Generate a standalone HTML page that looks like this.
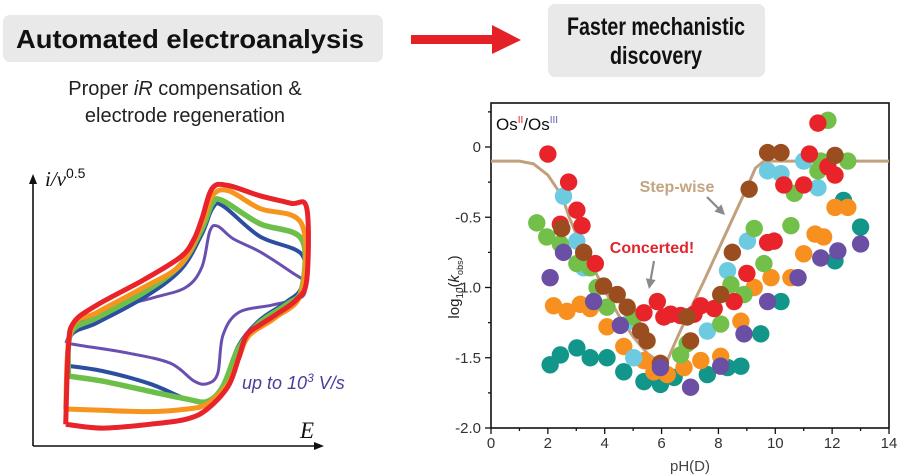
<!DOCTYPE html>
<html><head><meta charset="utf-8"><style>
html,body{margin:0;padding:0;background:#fff;}
svg{display:block;font-family:"Liberation Sans",sans-serif;}
</style></head><body>
<svg id="root" width="901" height="475" viewBox="0 0 901 475">
 <rect x="3" y="15" width="380" height="47" rx="7" fill="#e9e9ea"/>
 <text x="190" y="48" text-anchor="middle" font-weight="bold" font-size="26" textLength="348" lengthAdjust="spacingAndGlyphs" fill="#111">Automated electroanalysis</text>
 <g>
  <rect x="411" y="35" width="83" height="9" fill="#e32127"/>
  <polygon points="492,25 521,40 492,54" fill="#e32127"/>
 </g>
 <rect x="548" y="4" width="217" height="73" rx="7" fill="#e9e9ea"/>
 <text x="656" y="35" text-anchor="middle" font-weight="bold" font-size="25" textLength="178" lengthAdjust="spacingAndGlyphs" fill="#111">Faster mechanistic</text>
 <text x="656" y="64" text-anchor="middle" font-weight="bold" font-size="25" textLength="92" lengthAdjust="spacingAndGlyphs" fill="#111">discovery</text>
 <text x="185" y="95" text-anchor="middle" font-size="20" fill="#222">Proper <tspan font-style="italic">iR</tspan> compensation &amp;</text>
 <text x="185" y="122" text-anchor="middle" font-size="20" fill="#222">electrode regeneration</text>

 <g id="cv">
  <line x1="33" y1="446" x2="33" y2="180" stroke="#111" stroke-width="1.6"/>
  <polygon points="33,174 29,184 37,184" fill="#111"/>
  <line x1="33" y1="446" x2="318" y2="446" stroke="#111" stroke-width="1.6"/>
  <polygon points="324,446 314,442 314,450" fill="#111"/>
  <text x="45" y="186" font-family="Liberation Serif,serif" font-style="italic" font-size="21" fill="#111">i/ν<tspan font-family="Liberation Sans,sans-serif" font-style="normal" font-size="14" dy="-8">0.5</tspan></text>
  <text x="300" y="438" font-family="Liberation Serif,serif" font-style="italic" font-size="23" fill="#111">E</text>
  <text x="242" y="389" font-style="italic" font-size="18" fill="#4a3d9a">up to 10<tspan font-size="12" dy="-7">3</tspan><tspan dy="7"> V/s</tspan></text>
 </g>

 <g id="sc">
  <text x="496" y="130" font-size="17" fill="#111">Os<tspan font-size="10" dy="-7" fill="#e32127">II</tspan><tspan dy="7">/Os</tspan><tspan font-size="10" dy="-7" fill="#5b5bb8">III</tspan></text>
  <text transform="translate(459,287) rotate(-90)" text-anchor="middle" font-size="15" fill="#222">log<tspan font-size="10" dy="4">10</tspan><tspan dy="-4">(</tspan><tspan font-style="italic">k</tspan><tspan font-size="9" dy="4">obs</tspan><tspan dy="-4">)</tspan></text>
  <text x="690" y="471" text-anchor="middle" font-size="15" fill="#444">pH(D)</text>
 </g>
</svg>
<script>
// ---- scatter data (pH, log10 kobs) ----
const redX=[2.0,2.73,2.44,3.02,3.2,3.67,5.85,5.38,6.08,6.32,6.67,7.14,7.38,7.85,8.55,9.0,9.73,9.96,10.3,11.0,11.2,11.5,12.1,11.85];
const redY=[-0.05,-0.25,-0.55,-0.45,-0.56,-0.83,-1.1,-1.18,-1.21,-1.19,-1.2,-1.19,-1.13,-1.15,-1.1,-0.9,-0.68,-0.67,-0.27,-0.27,-0.05,0.17,-0.2,-0.14];
const cyanX=[2.55,3.02,3.26,4.9,5.02,7.61,8.32,9.02,9.73,10.2,11.0,11.5];
const cyanY=[-0.35,-0.67,-0.86,-1.24,-1.5,-1.31,-0.88,-0.67,-0.17,-0.19,-0.1,-0.29];
const greenX=[1.61,1.96,2.44,3.02,3.49,3.73,4.08,5.02,6.67,6.9,8.08,8.44,8.9,9.26,9.6,10.55,10.67,11.5,11.85,12.55,11.6];
const greenY=[-0.54,-0.64,-0.69,-0.83,-0.86,-1.0,-1.14,-1.21,-1.48,-1.4,-1.26,-0.98,-1.05,-0.58,-0.83,-0.56,-0.33,-0.17,0.19,-0.1,-0.1];
const brownX=[2.49,3.26,3.96,4.44,4.79,5.26,5.49,5.96,6.9,7.02,8.08,8.49,9.08,9.73,10.2,12.1];
const brownY=[-0.58,-0.75,-0.99,-1.05,-1.14,-1.31,-1.38,-1.54,-1.21,-1.38,-1.05,-0.75,-0.3,-0.04,-0.04,-0.06];
const orangeX=[2.2,2.67,3.14,3.49,4.08,4.67,5.38,5.73,6.2,6.79,7.38,8.08,8.79,9.26,9.85,10.55,11.0,11.4,11.7,12.1,12.55];
const orangeY=[-1.13,-1.17,-1.12,-1.15,-1.28,-1.42,-1.52,-1.6,-1.62,-1.57,-1.52,-1.49,-1.24,-1.0,-0.93,-0.93,-0.76,-0.62,-0.64,-0.43,-0.43];
const tealX=[2.08,2.44,3.02,3.49,4.08,4.67,5.38,5.96,6.44,7.61,8.32,8.79,9.49,10.2,12.1,12.4,13.0];
const tealY=[-1.55,-1.48,-1.43,-1.5,-1.5,-1.6,-1.67,-1.69,-1.64,-1.62,-1.57,-1.56,-1.33,-1.1,-0.81,-0.38,-0.57];
const purpleX=[2.08,2.55,3.61,4.55,5.96,7.02,8.08,8.9,9.73,10.8,11.6,12.2,13.0];
const purpleY=[-0.93,-0.75,-1.1,-1.27,-1.57,-1.71,-1.56,-1.33,-1.1,-0.93,-0.79,-0.74,-0.69];
const fitX=[0,1,1.5,2,2.5,2.75,3,3.5,4,4.5,5,5.5,6,6.2,6.5,7,7.5,8,8.5,9,9.3,9.6,10,14];
const fitY=[-0.1,-0.1,-0.12,-0.2,-0.35,-0.5,-0.62,-0.82,-1.02,-1.2,-1.35,-1.47,-1.54,-1.52,-1.38,-1.16,-0.95,-0.73,-0.51,-0.29,-0.15,-0.1,-0.1,-0.1];
const xTicks=[0,2,4,6,8,10,12,14];
const yTicks=[0,-0.5,-1.0,-1.5,-2.0];
const yTickLabels=["0","-0.5","-1.0","-1.5","-2.0"];

// ---- CV curves (normalised E 0..1, i 0..1) ----
const cvRedE=[0.06,0.2,0.38,0.52,0.6,0.68,0.72,0.75,0.8,0.86,0.94,0.98,0.98,0.92,0.8,0.68,0.62,0.58,0.55,0.5,0.36,0.18,0.09,0.07,0.06];
const cvRedI=[0.05,0.035,0.05,0.07,0.11,0.2,0.31,0.40,0.44,0.48,0.54,0.62,0.90,0.92,0.95,0.99,0.98,0.86,0.78,0.71,0.62,0.52,0.45,0.35,0.05];
const cvOrangeE=[0.06,0.2,0.38,0.52,0.6,0.68,0.72,0.76,0.86,0.96,0.96,0.8,0.68,0.62,0.58,0.5,0.36,0.18,0.08,0.06];
const cvOrangeI=[0.11,0.105,0.10,0.11,0.13,0.21,0.31,0.40,0.47,0.57,0.84,0.90,0.97,0.95,0.84,0.68,0.59,0.49,0.42,0.11];
const cvGreenE=[0.07,0.2,0.38,0.52,0.6,0.66,0.72,0.8,0.9,0.96,0.96,0.8,0.66,0.62,0.58,0.5,0.36,0.18,0.08,0.07];
const cvGreenI=[0.24,0.22,0.18,0.15,0.14,0.2,0.35,0.45,0.52,0.58,0.78,0.84,0.93,0.92,0.82,0.68,0.57,0.47,0.41,0.24];
const cvBlueE=[0.07,0.2,0.38,0.52,0.6,0.66,0.72,0.8,0.9,0.96,0.96,0.8,0.66,0.62,0.58,0.5,0.36,0.18,0.08,0.07];
const cvBlueI=[0.28,0.26,0.21,0.15,0.14,0.2,0.36,0.46,0.53,0.59,0.72,0.79,0.91,0.90,0.80,0.66,0.55,0.45,0.40,0.28];
const cvPurpleE=[0.06,0.12,0.3,0.46,0.55,0.6,0.64,0.66,0.72,0.85,0.96,0.97,0.92,0.8,0.7,0.64,0.61,0.58,0.52,0.4,0.22,0.1,0.06];
const cvPurpleI=[0.37,0.36,0.33,0.29,0.22,0.21,0.25,0.40,0.49,0.52,0.55,0.61,0.65,0.73,0.78,0.83,0.81,0.67,0.59,0.55,0.5,0.44,0.37];

const NS='http://www.w3.org/2000/svg';
function mk(tag,attrs,parent){const e=document.createElementNS(NS,tag);for(const k in attrs)e.setAttribute(k,attrs[k]);parent.appendChild(e);return e;}

const cv=document.getElementById('cv');
const cvX=e=>50+e*262, cvY=i=>437-i*(437-183);
function smooth(xs,ys){let d='';const P=xs.map((e,k)=>[cvX(e),cvY(ys[k])]);
 d='M'+P[0][0]+' '+P[0][1];
 for(let k=0;k<P.length-1;k++){const p0=P[Math.max(k-1,0)],p1=P[k],p2=P[k+1],p3=P[Math.min(k+2,P.length-1)];
  const c1=[p1[0]+(p2[0]-p0[0])/6,p1[1]+(p2[1]-p0[1])/6],c2=[p2[0]-(p3[0]-p1[0])/6,p2[1]-(p3[1]-p1[1])/6];
  d+=' C'+c1[0].toFixed(1)+' '+c1[1].toFixed(1)+' '+c2[0].toFixed(1)+' '+c2[1].toFixed(1)+' '+p2[0].toFixed(1)+' '+p2[1].toFixed(1);}
 return d;}
const cvSeries=[[cvPurpleE,cvPurpleI,'#6a4fb0',3,'cv-curve-purple'],[cvBlueE,cvBlueI,'#2c4ea0',4,'cv-curve-blue'],[cvGreenE,cvGreenI,'#6cc04a',5.5,'cv-curve-green'],[cvOrangeE,cvOrangeI,'#f7941d',5,'cv-curve-orange'],[cvRedE,cvRedI,'#e8232a',5,'cv-curve-red']];
cvSeries.forEach(s=>{const p=mk('path',{d:smooth(s[0],s[1]),fill:'none',stroke:s[2],'stroke-width':s[3],'stroke-linejoin':'round'},cv);
 
 });

const sc=document.getElementById('sc');
const X=v=>491+v*(889-491)/14, Y=v=>147-v*140.5;
const frame=mk('rect',{x:491,y:103,width:398,height:325,fill:'none',stroke:'#111','stroke-width':1.6},sc);


for(let v=0;v<=14;v+=1){const major=v%2===0;mk('line',{x1:X(v),x2:X(v),y1:428,y2:major?434:431,stroke:'#111','stroke-width':1.3},sc);}
for(let v=0.25;v>=-2.0;v-=0.25){const major=Math.abs(v*2-Math.round(v*2))<1e-6;mk('line',{x1:major?485:488,x2:491,y1:Y(v),y2:Y(v),stroke:'#111','stroke-width':1.3},sc);}
xTicks.forEach(v=>{const t=mk('text',{x:X(v),y:448,'text-anchor':'middle','font-size':15,fill:'#333'},sc);t.textContent=v;
 
 });
yTicks.forEach((v,k)=>{const t=mk('text',{x:481,y:Y(v)+5,'text-anchor':'end','font-size':15,fill:'#333'},sc);t.textContent=yTickLabels[k];
 
 });
const fit=mk('polyline',{points:fitX.map((x,k)=>X(x).toFixed(1)+','+Y(fitY[k]).toFixed(1)).join(' '),fill:'none',stroke:'#c1a07e','stroke-width':3,'stroke-linejoin':'round'},sc);


const series=[[tealX,tealY,'#13968a','teal'],[orangeX,orangeY,'#f7901e','orange'],[cyanX,cyanY,'#6ccbe0','cyan'],[greenX,greenY,'#72c04a','green'],[redX,redY,'#e8242a','red'],[brownX,brownY,'#9a4e1f','brown'],[purpleX,purpleY,'#6a4fa5','purple']];
series.forEach(s=>{s[0].forEach((x,k)=>{const c=mk('circle',{cx:X(x),cy:Y(s[1][k]),r:8.7,fill:s[2]},sc);
 
 });});
function arrow(x1,y1,x2,y2,name){const g=mk('g',{},sc);
 
 
 const a=Math.atan2(y2-y1,x2-x1);mk('line',{x1,y1,x2:x2-7*Math.cos(a),y2:y2-7*Math.sin(a),stroke:'#8a8a8a','stroke-width':2.2},g);
 const p=[[x2,y2],[x2-10*Math.cos(a)+5*Math.sin(a),y2-10*Math.sin(a)-5*Math.cos(a)],[x2-10*Math.cos(a)-5*Math.sin(a),y2-10*Math.sin(a)+5*Math.cos(a)]];
 mk('polygon',{points:p.map(q=>q.join(',')).join(' '),fill:'#8a8a8a'},g);}
arrow(707,197,725,215,'stepwise-arrow');
arrow(654,261,649,289,'concerted-arrow');
const t1=mk('text',{x:677,y:192,'text-anchor':'middle','font-size':16,'font-weight':'bold',fill:'#c4a47f'},sc);t1.textContent='Step-wise';


const t2=mk('text',{x:652,y:253,'text-anchor':'middle','font-size':16,'font-weight':'bold',fill:'#e0262c'},sc);t2.textContent='Concerted!';


</script>
</body></html>
